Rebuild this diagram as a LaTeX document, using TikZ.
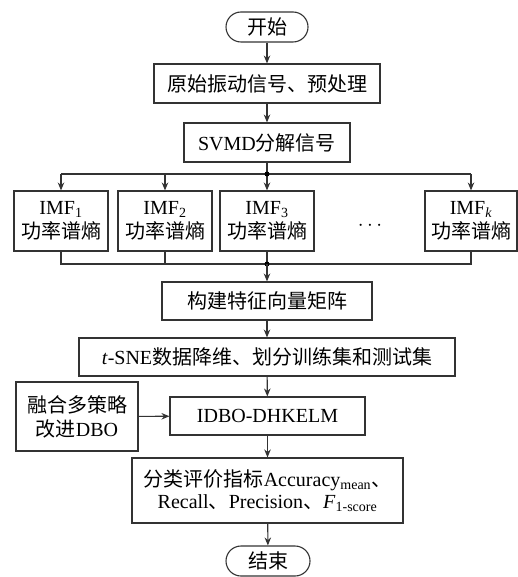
\documentclass[tikz,border=0pt]{standalone}
\usepackage{fontspec}
\setmainfont{Liberation Serif}
\newfontfamily\cjk{Noto Sans CJK SC}
\usetikzlibrary{arrows.meta}
\tikzset{
  ln/.style={draw=black!80, line width=1.1pt},
  flow/.style={ln, -{Stealth[length=8pt,width=6.5pt]}},
  stepbox/.style={ln, rectangle, inner sep=0pt, align=center, font=\fontsize{20}{24}\selectfont},
  term/.style={stepbox, rounded corners=15pt},
  joint/.style={circle, fill=black, inner sep=0pt, minimum size=5pt},
}
\begin{document}
\begin{tikzpicture}[x=1pt, y=-1pt]
\useasboundingbox (0,0) rectangle (518,577);
% main column
\node[term, minimum width=82pt, minimum height=30pt] (start) at (267,27) {\cjk 开始};
\node[stepbox, minimum width=226pt, minimum height=39pt] (pre) at (267,83.5) {\cjk 原始振动信号、预处理};
\node[stepbox, minimum width=166pt, minimum height=39pt] (svmd) at (267,142.5) {SVMD{\cjk 分解信号}};
% IMF boxes
\node[stepbox, minimum width=94pt, minimum height=60pt] (imf1) at (61,221) {IMF\textsubscript{1}\\{\cjk 功率谱熵}};
\node[stepbox, minimum width=94pt, minimum height=60pt] (imf2) at (165,221) {IMF\textsubscript{2}\\{\cjk 功率谱熵}};
\node[stepbox, minimum width=94pt, minimum height=60pt] (imf3) at (267,221) {IMF\textsubscript{3}\\{\cjk 功率谱熵}};
\node[stepbox, minimum width=92pt, minimum height=60pt] (imfk) at (471,221) {IMF\textsubscript{\textit{k}}\\{\cjk 功率谱熵}};
\node[font=\fontsize{20}{24}\selectfont] (dots) at (370,226) {$\cdots$};
% lower column
\node[stepbox, minimum width=210pt, minimum height=38pt] (feat) at (267,301) {\cjk 构建特征向量矩阵};
\node[stepbox, minimum width=376pt, minimum height=38pt] (tsne) at (267,357) {\textit{t}-SNE{\cjk 数据降维、划分训练集和测试集}};
\node[stepbox, minimum width=195pt, minimum height=38pt] (idbo) at (267.5,416) {IDBO-DHKELM};
\node[stepbox, minimum width=122pt, minimum height=69pt] (fuse) at (77,416.5) {{\cjk 融合多策略}\\{\cjk 改进}DBO};
\node[stepbox, minimum width=271pt, minimum height=65pt, font=\fontsize{20}{22}\selectfont] (eval) at (267.5,490.5) {{\cjk 分类评价指标}Accuracy\textsubscript{mean}{\cjk 、}\\Recall{\cjk 、}Precision{\cjk 、}\textit{F}\textsubscript{1-score}};
\node[term, minimum width=84pt, minimum height=30pt] (end) at (268,561) {\cjk 结束};
% split and merge points
\coordinate (split) at (267,174);
\coordinate (merge) at (267,264);
% connectors
\draw[flow] (start) -- (pre);
\draw[flow] (pre) -- (svmd);
\draw[ln] (svmd) -- (split);
\draw[ln] (imf1.north |- split) -- (imfk.north |- split);
\draw[flow] (split) -- (imf3);
\draw[flow] (imf1.north |- split) -- (imf1);
\draw[flow] (imf2.north |- split) -- (imf2);
\draw[flow] (imfk.north |- split) -- (imfk);
\node[joint] at (split) {};
\draw[ln] (imf1) -- (imf1.south |- merge) -- (imfk.south |- merge) -- (imfk);
\draw[ln] (imf2) -- (imf2.south |- merge);
\draw[ln] (imf3) -- (merge);
\node[joint] at (merge) {};
\draw[flow] (merge) -- (feat);
\draw[flow] (feat) -- (tsne);
\draw[flow] (tsne) -- (idbo);
\draw[flow] (fuse) -- (idbo);
\draw[flow] (idbo) -- (eval);
\draw[flow] (eval) -- (end);
\end{tikzpicture}
\end{document}
